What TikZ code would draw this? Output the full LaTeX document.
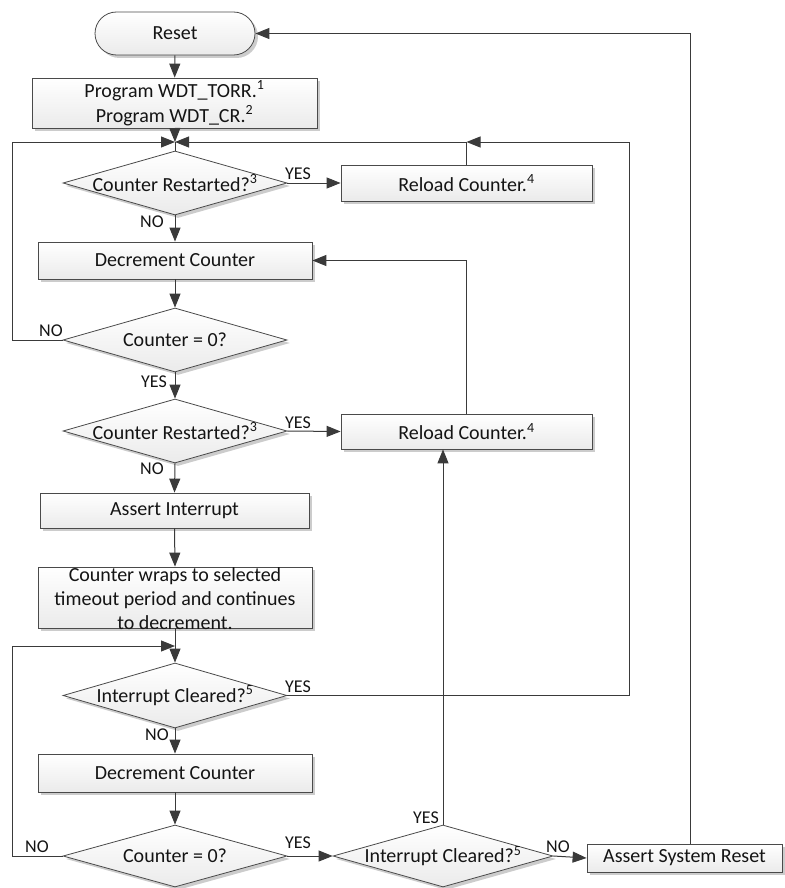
\documentclass[tikz,border=0pt]{standalone}
\usepackage{fontspec}
\setmainfont{Carlito}
\usetikzlibrary{arrows.meta,shapes.geometric,shapes.misc,shadows}
\definecolor{linec}{HTML}{3A3A3A}
\definecolor{boxc}{HTML}{4A4A4A}
\definecolor{txtc}{HTML}{141414}
\begin{document}
\begin{tikzpicture}[x=1pt,y=-1pt,
  line/.style={draw=linec, line width=1pt},
  arr/.style={line, -{Triangle[length=14pt,width=11pt]}},
  shade/.style={top color=white, bottom color=gray!16,
    drop shadow={shadow xshift=3pt, shadow yshift=-3pt, fill=gray!40, opacity=1}},
  box/.style={draw=boxc, line width=0.8pt, shade, inner sep=0pt,
    text=txtc, font=\fontsize{20}{24}\selectfont, align=center},
  term/.style={box, rounded rectangle},
  dia/.style={draw=boxc, line width=0.8pt, shade, diamond, inner sep=0pt},
  dtext/.style={inner sep=0pt, text=txtc, font=\fontsize{20}{24}\selectfont},
  lbl/.style={inner sep=0pt, text=txtc, font=\fontsize{18}{20}\selectfont}
]
\useasboundingbox (0,0) rectangle (784,888);

% main column
\node[term, minimum width=160pt, minimum height=43pt] (reset) at (175,33.5) {Reset};
\node[box, minimum width=285pt, minimum height=50pt] (prog) at (174.5,103)
  {Program WDT\_TORR.\textsuperscript{1}\\[1pt]Program WDT\_CR.\textsuperscript{2}};
\coordinate (m1) at (175,142);
\node[dia, minimum width=224pt, minimum height=64pt] (d1) at (175,183) {};
\node[dtext] (d1t) at (d1.center) {Counter Restarted?\textsuperscript{3}};
\node[box, minimum width=251pt, minimum height=36pt] (rl1) at (466.5,183) {Reload Counter.\textsuperscript{4}};
\node[box, minimum width=274pt, minimum height=37pt] (dec1) at (175,260.5) {Decrement Counter};
\node[dia, minimum width=224pt, minimum height=64pt] (d2) at (175,340) {};
\node[dtext] (d2t) at (d2.center) {Counter = 0?};
\node[dia, minimum width=224pt, minimum height=64pt] (d3) at (175,431) {};
\node[dtext] (d3t) at (d3.center) {Counter Restarted?\textsuperscript{3}};
\node[box, minimum width=251pt, minimum height=35pt] (rl2) at (466.5,431.5) {Reload Counter.\textsuperscript{4}};
\node[box, minimum width=269pt, minimum height=35pt] (ai) at (174.5,510.5) {Assert Interrupt};
\node[box, minimum width=274pt, minimum height=61pt] (wrap) at (175,597.5) {};
\node[dtext, align=center] (wrapt) at (175,598.5)
  {Counter wraps to selected\\timeout period and continues\\to decrement.};
\coordinate (m2) at (175,646);
\node[dia, minimum width=224pt, minimum height=65pt] (d4) at (175,695.5) {};
\node[dtext] (d4t) at (d4.center) {Interrupt Cleared?\textsuperscript{5}};
\node[box, minimum width=274pt, minimum height=38pt] (dec2) at (175,773) {Decrement Counter};
\node[dia, minimum width=224pt, minimum height=62pt] (d5) at (175,856) {};
\node[dtext] (d5t) at (d5.center) {Counter = 0?};
\node[dia, minimum width=220pt, minimum height=62pt] (d6) at (443,856) {};
\node[dtext] (d6t) at (d6.center) {Interrupt Cleared?\textsuperscript{5}};
\node[box, minimum width=195pt, minimum height=28pt] (asr) at (684.5,858) {Assert System Reset};

% turning points of the loops
\coordinate (lt1) at (12,142);
\coordinate (lt2) at (12,646);
\coordinate (rt1) at (629,142);
\coordinate (rt2) at (690,33.5);

% connectors
\draw[arr] (reset) -- (prog);
\draw[arr] (prog) -- (m1);
\draw[line] (m1) -- (d1.north);
\draw[arr] (d1.east) -- (rl1.west);
\draw[arr] (rl1.north) |- (m1);
\draw[arr] (d4.east) -| (rt1) -- (rl1.north |- m1);
\draw[arr] (d1.south) -- (dec1.north);
\draw[arr] (dec1.south) -- (d2.north);
\draw[arr] (d2.west) -| (lt1) -- (m1);
\draw[arr] (d2.south) -- (d3.north);
\draw[arr] (d3.east) -- (rl2.west);
\draw[arr] (rl2.north) |- (dec1.east);
\draw[arr] (d3.south) -- (ai.north);
\draw[arr] (ai.south) -- (wrap.north);
\draw[arr] (wrap.south) -- (d4.north);
\draw[arr] (d5.west) -| (lt2) -- (m2);
\draw[arr] (d4.south) -- (dec2.north);
\draw[arr] (dec2.south) -- (d5.north);
\draw[arr] (d5.east) -- (d6.west);
\draw[arr] (d6.north) -- (d6.north |- rl2.south);
\draw[arr] (d6.east) -- (asr.west);
\draw[arr] (asr.north -| rt2) -- (rt2) -- (reset.east);

% branch labels
\node[lbl] (y1) at (298,174) {YES};
\node[lbl] (n1) at (152,222) {NO};
\node[lbl] (n2) at (51,331) {NO};
\node[lbl] (y2) at (154,382) {YES};
\node[lbl] (y3) at (298,423) {YES};
\node[lbl] (n3) at (152,469) {NO};
\node[lbl] (y4) at (298,687) {YES};
\node[lbl] (n4) at (157,735) {NO};
\node[lbl] (n5) at (37,847) {NO};
\node[lbl] (y5) at (298,843) {YES};
\node[lbl] (y6) at (426,818) {YES};
\node[lbl] (n6) at (558,847) {NO};
\end{tikzpicture}
\end{document}
